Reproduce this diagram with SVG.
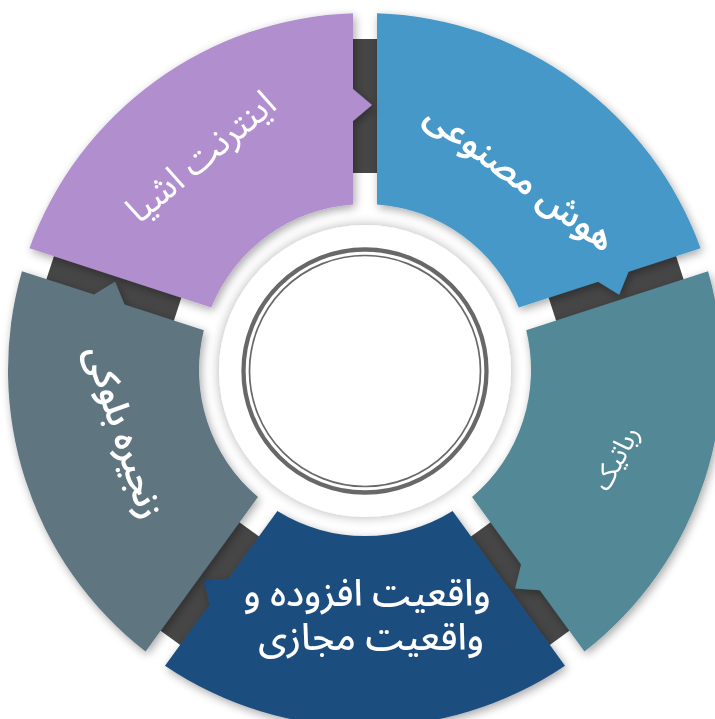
<svg xmlns="http://www.w3.org/2000/svg" width="715" height="719" viewBox="0 0 715 719">
<defs>
<filter id="sh" x="-20%" y="-20%" width="140%" height="140%">
<feGaussianBlur in="SourceAlpha" stdDeviation="5"/>
<feOffset dx="2" dy="3"/>
<feComponentTransfer><feFuncA type="linear" slope="0.35"/></feComponentTransfer>
<feMerge><feMergeNode/><feMergeNode in="SourceGraphic"/></feMerge>
</filter>
<filter id="sh2" x="-20%" y="-20%" width="140%" height="140%">
<feGaussianBlur in="SourceAlpha" stdDeviation="6"/>
<feComponentTransfer><feFuncA type="linear" slope="0.3"/></feComponentTransfer>
<feMerge><feMergeNode/><feMergeNode in="SourceGraphic"/></feMerge>
</filter>
</defs>
<style>
.bar{fill:#464646}
.seg{filter:url(#sh)}
.lbl{fill:#ffffff;font-family:'Noto Sans Arabic','DejaVu Sans',sans-serif;text-anchor:middle}
.ring{fill:none;stroke:#686868}
</style>
<rect width="715" height="719" fill="#ffffff"/>
<g id="connectors">
<rect class="bar" x="197" y="-13" width="134" height="26" transform="translate(365 370) rotate(-90)"/>
<rect class="bar" x="197" y="-13" width="134" height="26" transform="translate(365 370) rotate(-18)"/>
<rect class="bar" x="197" y="-13" width="134" height="26" transform="translate(365 370) rotate(54)"/>
<rect class="bar" x="197" y="-13" width="134" height="26" transform="translate(365 370) rotate(126)"/>
<rect class="bar" x="197" y="-13" width="134" height="26" transform="translate(365 370) rotate(198)"/>
</g>
<g id="node-ai" class="seg">
<path fill="#4598C7" d="M377 13.2A357 357 0 0 1 700.63 248.33L628.54 271.75L619.19 294.77L598.1 281.64L518.76 307.42A166 166 0 0 0 377 204.43Z"/>
<text class="lbl" font-size="35" font-weight="600" transform="translate(520 177) rotate(36)" y="12">هوش مصنوعی</text>
</g>
<g id="node-robotics" class="seg">
<path fill="#538896" d="M708.05 271.16A357 357 0 0 1 584.43 651.6L539.88 590.28L515.1 588.5L521.07 564.39L472.03 496.89A166 166 0 0 0 526.18 330.25Z"/>
<text class="lbl" font-size="27" transform="translate(616 458) rotate(-62)" y="9">رباتیک</text>
</g>
<g id="node-arvr" class="seg">
<path fill="#1F4E7F" d="M565.01 665.71A357 357 0 0 1 164.99 665.71L209.54 604.39L203.57 580.28L228.35 578.5L277.39 511A166 166 0 0 0 452.61 511Z"/>
<text class="lbl" font-size="37" font-weight="500" x="367" y="606">واقعیت افزوده و</text>
<text class="lbl" font-size="37" font-weight="500" x="371" y="650">واقعیت مجازی</text>
</g>
<g id="node-blockchain" class="seg">
<path fill="#5E7580" d="M145.57 651.6A357 357 0 0 1 21.96 271.16L94.05 294.58L115.13 281.45L124.48 304.47L203.83 330.25A166 166 0 0 0 257.97 496.9Z"/>
<text class="lbl" font-size="35" font-weight="600" transform="translate(124 432) rotate(72)" y="12">زنجیره بلوکی</text>
</g>
<g id="node-iot" class="seg">
<path fill="#B18FCF" d="M29.37 248.33A357 357 0 0 1 353 13.2L353 89L372 105L353 121L353 204.43A166 166 0 0 0 211.24 307.42Z"/>
<text class="lbl" font-size="37" transform="translate(201 157) rotate(-40)" y="12">اینترنت اشیا</text>
</g>
<g id="node-center">
<circle cx="365" cy="371" r="146" fill="#ffffff" filter="url(#sh2)"/>
<circle class="ring" cx="365" cy="371" r="121.5" stroke-width="4.3"/>
<circle class="ring" cx="365" cy="371" r="115.5" stroke-width="1.7"/>
</g>
</svg>
